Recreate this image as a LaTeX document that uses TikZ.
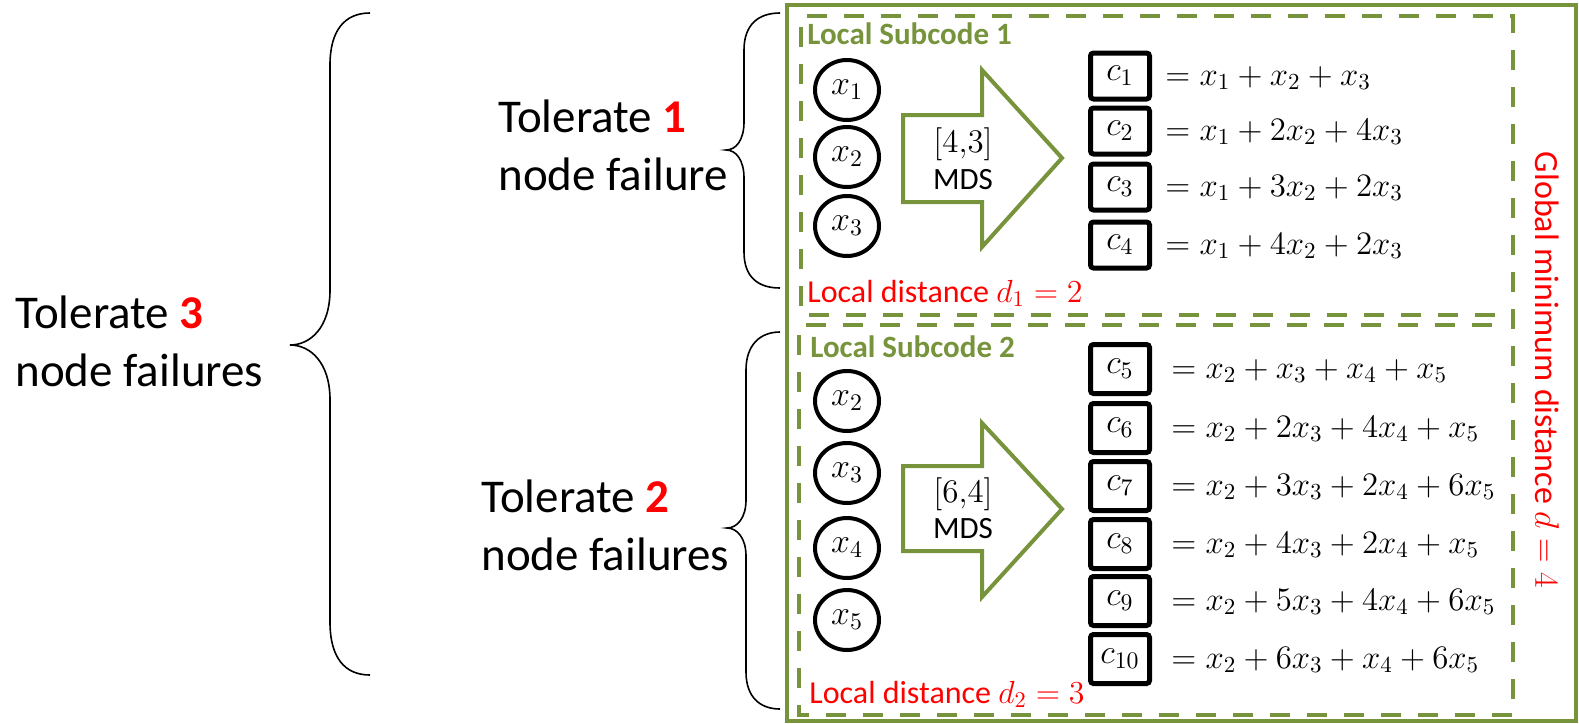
\RequirePackage{fix-cm}
\documentclass[tikz,border=0pt]{standalone}
\usepackage{fontspec}
\setmainfont{Carlito}
\usetikzlibrary{shapes.geometric,calc}
\definecolor{leaf}{HTML}{77933C}
\definecolor{alert}{HTML}{FF0000}

\tikzset{
  bigtext/.style={font=\fontsize{23.5}{29}\selectfont, align=left, inner sep=0pt},
  subtitle/.style={font=\fontsize{15.5}{18}\selectfont\bfseries, text=leaf, inner sep=0pt, anchor=base west},
  distlabel/.style={font=\fontsize{16}{19}\selectfont, text=alert, inner sep=0pt, anchor=base west},
  varnode/.style={ellipse, draw=black, line width=2pt, minimum width=32pt, minimum height=30pt,
                  inner sep=0pt, font=\fontsize{17}{20}\selectfont},
  cbox/.style={rectangle, draw=black, line width=2.5pt, rounded corners=1.5pt, minimum width=29.5pt,
               inner sep=0pt, font=\fontsize{17}{20}\selectfont},
  eqn/.style={inner sep=0pt, font=\fontsize{16.4}{19}\selectfont, anchor=base west},
  codelabel/.style={inner sep=0pt, font=\fontsize{16.5}{19}\selectfont},
  mdslabel/.style={inner sep=0pt, font=\fontsize{15.5}{18}\selectfont},
  bigarrow/.style={draw=leaf, line width=2pt, line join=miter, fill=white},
  brace/.style={draw=black, line width=0.8pt},
  dashbox/.style={draw=leaf, line width=2.3pt, dash pattern=on 10pt off 8.5pt},
  outerbox/.style={draw=leaf, line width=2pt}
}

\begin{document}
\begin{tikzpicture}[x=0.5pt,y=-0.5pt]
  \useasboundingbox (0,0) rectangle (1579,723);

  % ---- left: overall tolerance and brace ----
  \node[bigtext, anchor=west] (tol3) at (15,341) {Tolerate \textcolor{alert}{\textbf{3}}\\node failures};
  \draw[brace] (370,13) .. controls (345,13) and (330,30) .. (330,65) -- (330,290)
    .. controls (330,328) and (310,345) .. (290,345)
    .. controls (310,345) and (330,362) .. (330,400) -- (330,622)
    .. controls (330,658) and (345,675) .. (370,675);

  % ---- middle: per-subcode tolerance and braces ----
  \node[bigtext, anchor=west] (tol1) at (498,145) {Tolerate \textcolor{alert}{\textbf{1}}\\node failure};
  \node[bigtext, anchor=west] (tol2) at (481,525) {Tolerate \textcolor{alert}{\textbf{2}}\\node failures};
  \draw[brace] (780,13) .. controls (758,13) and (744,25) .. (744,50) -- (744,122)
    .. controls (744,140) and (736,150) .. (726,150)
    .. controls (736,150) and (744,160) .. (744,178) -- (744,252)
    .. controls (744,277) and (758,288) .. (780,288);
  \draw[brace] (780,332) .. controls (760,332) and (746,345) .. (746,370) -- (746,500)
    .. controls (746,518) and (737,528) .. (727,528)
    .. controls (737,528) and (746,538) .. (746,556) -- (746,672)
    .. controls (746,697) and (760,709) .. (780,709);

  % ---- frames of the global code and the two local subcodes ----
  \draw[outerbox] (787,5) rectangle (1576,721);
  \draw[dashbox] (1495,315) -- (801,315) -- (801,16) -- (1513,16) -- (1513,715)
    -- (799,715) -- (799,325) -- (1495,325);

  \node[subtitle] (sub1) at (807,44) {Local Subcode 1};
  \node[subtitle] (sub2) at (810,357) {Local Subcode 2};
  \node[distlabel] (dist1) at (807,302) {Local distance $d_1 = 2$};
  \node[distlabel] (dist2) at (809,703) {Local distance $d_2 = 3$};
  \node[inner sep=0pt, font=\fontsize{17}{20}\selectfont, text=alert, rotate=-90] (glob)
    at (1547,370) {Global minimum distance $d = 4$};

  % ---- subcode 1: [4,3] MDS ----
  \node[varnode] (a1) at (847,90)  {$x_1$};
  \node[varnode] (a2) at (847,157) {$x_2$};
  \node[varnode] (a3) at (847,226) {$x_3$};
  \draw[bigarrow] (903,115) -- (982,115) -- (982,70) -- (1062,158) -- (982,247) -- (982,202) -- (903,202) -- cycle;
  \node[codelabel] (k1) at (963,144) {$[4{,}3]$};
  \node[mdslabel] (m1) at (963,180) {MDS};

  \node[cbox, minimum height=23pt] (c1) at (1120,76)  {$c_1$};
  \node[cbox, minimum height=23pt] (c2) at (1120,131) {$c_2$};
  \node[cbox, minimum height=23pt] (c3) at (1120,187) {$c_3$};
  \node[cbox, minimum height=23pt] (c4) at (1120,245) {$c_4$};
  \node[eqn] (e1) at ($(c1.east)+(13,9)$) {$= x_1 + x_2 + x_3$};
  \node[eqn] (e2) at ($(c2.east)+(13,9)$) {$= x_1 + 2x_2 + 4x_3$};
  \node[eqn] (e3) at ($(c3.east)+(13,9)$) {$= x_1 + 3x_2 + 2x_3$};
  \node[eqn] (e4) at ($(c4.east)+(13,9)$) {$= x_1 + 4x_2 + 2x_3$};

  % ---- subcode 2: [6,4] MDS ----
  \node[varnode] (b2) at (847,401) {$x_2$};
  \node[varnode] (b3) at (847,473) {$x_3$};
  \node[varnode] (b4) at (847,548) {$x_4$};
  \node[varnode] (b5) at (847,620) {$x_5$};
  \draw[bigarrow] (903,466) -- (982,466) -- (982,423) -- (1062,509) -- (982,597) -- (982,551) -- (903,551) -- cycle;
  \node[codelabel] (k2) at (963,494) {$[6{,}4]$};
  \node[mdslabel] (m2) at (963,529) {MDS};

  \node[cbox, minimum height=24.5pt] (c5)  at (1120,369) {$c_5$};
  \node[cbox, minimum height=24.5pt] (c6)  at (1120,428) {$c_6$};
  \node[cbox, minimum height=24.5pt] (c7)  at (1120,486) {$c_7$};
  \node[cbox, minimum height=24.5pt] (c8)  at (1120,544) {$c_8$};
  \node[cbox, minimum height=24.5pt] (c9)  at (1120,601) {$c_9$};
  \node[cbox, minimum height=24.5pt] (c10) at (1120,659) {$c_{10}$};
  \node[eqn] (e5)  at ($(c5.east)+(19,9)$)  {$= x_2 + x_3 + x_4 + x_5$};
  \node[eqn] (e6)  at ($(c6.east)+(19,9)$)  {$= x_2 + 2x_3 + 4x_4 + x_5$};
  \node[eqn] (e7)  at ($(c7.east)+(19,9)$)  {$= x_2 + 3x_3 + 2x_4 + 6x_5$};
  \node[eqn] (e8)  at ($(c8.east)+(19,9)$)  {$= x_2 + 4x_3 + 2x_4 + x_5$};
  \node[eqn] (e9)  at ($(c9.east)+(19,9)$)  {$= x_2 + 5x_3 + 4x_4 + 6x_5$};
  \node[eqn] (e10) at ($(c10.east)+(19,9)$) {$= x_2 + 6x_3 + x_4 + 6x_5$};
\end{tikzpicture}
\end{document}
